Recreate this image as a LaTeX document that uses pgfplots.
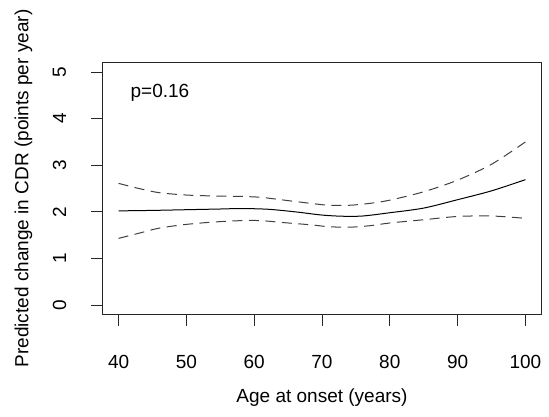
\documentclass[border=0pt]{standalone}
\usepackage{pgfplots}
\pgfplotsset{compat=1.18}
\usepackage{fontspec}
\setmainfont{Liberation Sans}
\begin{document}
\begin{tikzpicture}[font=\fontsize{19}{23}\selectfont]
\begin{axis}[
  at={(0,0)}, anchor=south west,
  scale only axis,
  width=439.4pt, height=251.6pt,
  xmin=37.6, xmax=102.4, ymin=-0.2, ymax=5.2,
  xtick={40,50,60,70,80,90,100},
  ytick={0,1,2,3,4,5},
  xtick pos=bottom, ytick pos=left,
  tick align=outside,
  major tick length=11.5pt,
  tick style={black!85, line width=0.9pt},
  axis line style={black!85, line width=0.9pt},
  /pgf/number format/assume math mode=true,
  xticklabel style={anchor=center, yshift=-36.4pt},
  yticklabel style={rotate=90, anchor=center, yshift=31.3pt},
  every axis x label/.style={at={(rel axis cs:0.5,0)}, anchor=center, yshift=-83.7pt},
  every axis y label/.style={at={(rel axis cs:0,0.5)}, anchor=center, rotate=90, yshift=78.8pt},
  xlabel={Age at onset (years)},
  ylabel={Predicted change in CDR (points per year)},
  clip=true,
]
\addplot[black, line width=1pt, smooth] coordinates {
(40,2.02) (45,2.03) (50,2.045) (55,2.06) (58,2.07) (62,2.055) (66,2.00)
(70,1.93) (73,1.905) (76,1.91) (80,1.98) (85,2.08) (90,2.26) (95,2.45) (100,2.69)
};
\addplot[black!75, line width=1pt, smooth, dash pattern=on 10pt off 6.5pt] coordinates {
(40,2.61) (43,2.50) (46,2.41) (50,2.36) (54,2.34) (58,2.33) (61,2.31) (65,2.24)
(68.4,2.18) (71,2.14) (74,2.14) (77,2.18) (80,2.25) (85,2.43) (90,2.68) (95,3.02) (100,3.50)
};
\addplot[black!75, line width=1pt, smooth, dash pattern=on 10pt off 6.5pt] coordinates {
(40,1.43) (43,1.54) (46,1.65) (50,1.73) (54,1.78) (58,1.81) (61,1.81) (65,1.76)
(68.4,1.72) (71,1.68) (74,1.67) (77,1.70) (80,1.76) (85,1.83) (90,1.90) (95,1.91) (100,1.86)
};
\node[anchor=center] at (axis cs:46.1,4.55) {p=0.16};
\end{axis}
\pgfresetboundingbox
\path[use as bounding box] (-102.3pt,-101.7pt) rectangle (446.7pt,314.3pt);
\end{tikzpicture}
\end{document}
